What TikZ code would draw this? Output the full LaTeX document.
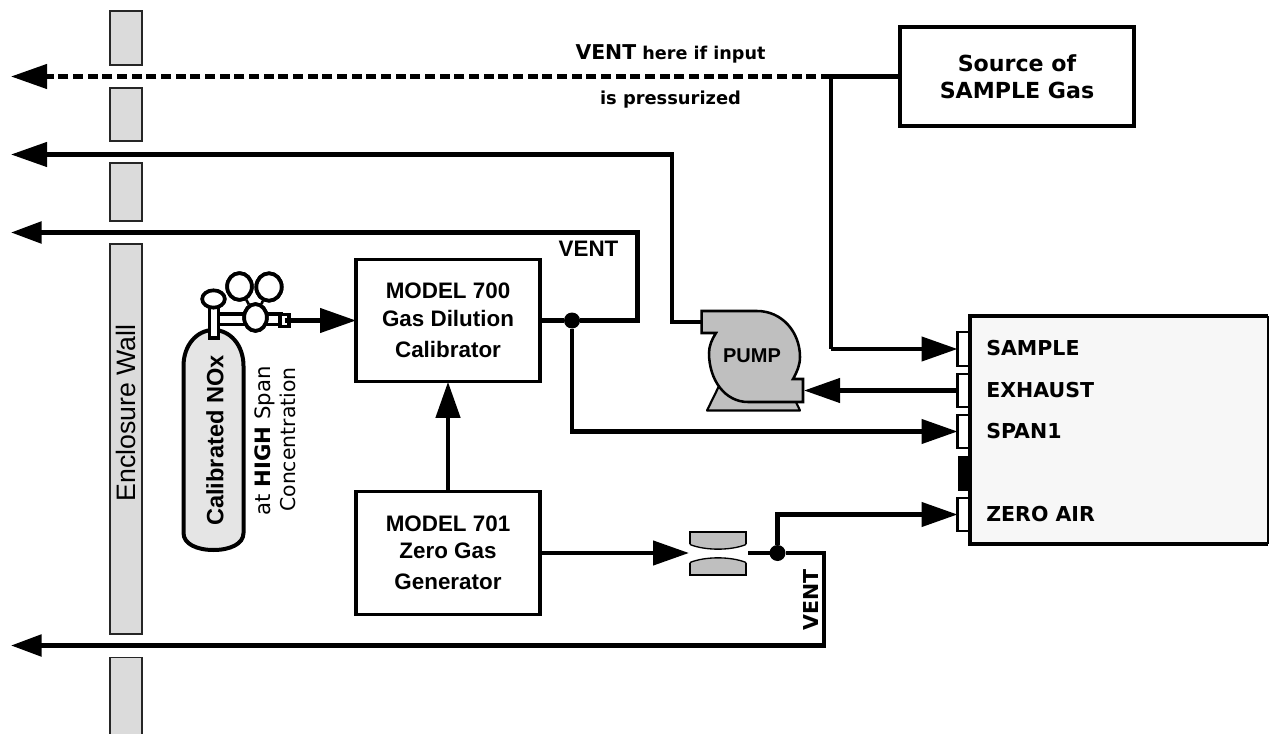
\documentclass[tikz,border=0pt]{standalone}
\usepackage{fontspec}
\setmainfont{Liberation Sans}
\newfontfamily\dvb[Scale=1]{DejaVu Sans}
\usetikzlibrary{arrows.meta,shapes.geometric}
\newcommand{\fsz}[1]{\fontsize{#1}{#1}\selectfont}
\tikzset{
  x=0.75pt,y=-0.75pt,
  pipe/.style={line width=3.3pt,line join=miter},
  bigtip/.style={pipe,-{Triangle[length=27pt,width=18pt]}},
  midtip/.style={pipe,-{Triangle[length=23pt,width=16pt]}},
  wallbox/.style={draw=black!85,fill=black!14,line width=1pt,inner sep=0pt,outer sep=0pt,minimum width=24pt},
  blockbox/.style={draw,fill=white,line width=2.3pt,inner sep=0pt,outer sep=0pt,minimum width=138pt,minimum height=92pt,align=center,font=\fsz{16.8}\bfseries},
  portbox/.style={draw,fill=white,line width=1.6pt,inner sep=0pt,outer sep=0pt,minimum width=9pt,minimum height=25pt},
  portlabel/.style={anchor=west,inner sep=0pt,font=\dvb\fsz{15.4}\bfseries},
  junction/.style={circle,fill=black,inner sep=0pt,outer sep=0pt,minimum size=12pt},
  valvepart/.style={draw,fill=white,line width=2.4pt},
  gauge/.style={ellipse,draw,fill=white,line width=2.8pt,inner sep=0pt},
  vertical/.style={rotate=90,inner sep=0pt},
}
\begin{document}
\begin{tikzpicture}
\useasboundingbox (0,0) rectangle (1270,734);
% enclosure wall
\node[wallbox,minimum height=40.5pt] (w1) at (126,38) {};
\node[wallbox,minimum height=39.75pt] (w2) at (126,114.5) {};
\node[wallbox,minimum height=43.5pt] (w3) at (126,192) {};
\node[wallbox,minimum height=292.5pt] (w4) at (126,439) {};
\node[wallbox,minimum height=58pt] (w5) at (126,696) {};
\node[vertical,font=\fsz{20}] (wlabel) at (126,413) {Enclosure Wall};
% free ends
\coordinate (ventA) at (11,76.5);
\coordinate (ventB) at (11,154.5);
\coordinate (ventC) at (11,232.5);
\coordinate (ventD) at (11,645.5);
% source
\node[blockbox,line width=3.3pt,minimum width=175.5pt,minimum height=74pt,font=\dvb\fsz{16.6}\bfseries] (src) at (1017,76.5) {Source of\\[3.7pt]SAMPLE Gas};
\coordinate (tee) at (831,76.5);
\coordinate (teeS) at (831,349);
% analyzer
\node[fill=black!3,inner sep=0pt,outer sep=0pt,minimum width=223.5pt,minimum height=171pt] (ana) at (1119,430) {};
\draw[line width=3.4pt,line join=miter] (ana.north east) -- (ana.north west) -- (ana.south west) -- (ana.south east);
\draw[line width=1pt] (ana.north east) -- (ana.south east);
\node[portbox] (pS) at (963.5,349) {};
\node[portbox] (pE) at (963.5,390.5) {};
\node[portbox] (pP) at (963.5,431.5) {};
\node[fill=black,inner sep=0pt,minimum width=9pt,minimum height=26pt,outer sep=0pt] (pB) at (963.5,473.5) {};
\node[portbox] (pZ) at (963.5,514.5) {};
\node[portlabel] (lS) at (986,348) {SAMPLE};
\node[portlabel] (lE) at (986,390) {EXHAUST};
\node[portlabel] (lP) at (986,431) {SPAN1};
\node[portlabel] (lZ) at (986,514.5) {ZERO AIR};
% blocks
\node[blockbox] (m700) at (448,320.5) {MODEL 700\\[4.2pt]Gas Dilution\\[6.5pt]Calibrator};
\node[blockbox] (m701) at (448,553) {MODEL 701\\[3.6pt]Zero Gas\\[6.5pt]Generator};
% pump
\draw[fill=black!25,line width=1.6pt,line join=round] (707,410.5) -- (719,386) -- (795,400) -- (800,410.5) -- cycle;
\draw[fill=black!25,line width=1.9pt,line join=miter]
  (701.7,311) -- (757,311) .. controls (782,311) and (800,332) .. (800,357)
  .. controls (800,365) and (797,372) .. (793,379) -- (803,379) -- (803,402) -- (748,402)
  .. controls (725,402) and (709,380) .. (709,353) .. controls (709,346) and (712,339) .. (716,333)
  -- (701.7,333) -- cycle;
\node[inner sep=0pt,font=\fsz{15}\bfseries] (pump) at (752,355.5) {PUMP};
\coordinate (pumpIn) at (701,322);
\coordinate (pumpOut) at (804,390.5);
\coordinate (pumpUp) at (672,322);
% flow restrictor
\draw[fill=black!25,line width=1.2pt] (690,532) rectangle (746,575);
\fill[white] (688.5,544) .. controls (705,550.7) and (731,550.7) .. (747.5,544) -- (747.5,563) .. controls (731,556.3) and (705,556.3) .. (688.5,563) -- cycle;
\draw[line width=1pt] (690,544.5) .. controls (705,550.7) and (731,550.7) .. (746,544.5);
\draw[line width=1pt] (690,562.5) .. controls (705,556.3) and (731,556.3) .. (746,562.5);
\coordinate (fIn) at (689,553);
\coordinate (fOut) at (748,553);
% cylinder
\draw[fill=black!10,line width=3pt] (183.5,366) .. controls (183.5,345) and (197,330) .. (213.5,330)
  .. controls (230,330) and (243.5,345) .. (243.5,366) -- (243.5,533)
  .. controls (243.5,544) and (230,550) .. (213.5,550) .. controls (197,550) and (183.5,544) .. (183.5,533) -- cycle;
% valve
\draw[valvepart] (250,314) rectangle (281,324.5);
\draw[valvepart] (218,314) rectangle (250,324.5);
\node[draw,fill=white,line width=2.4pt,inner sep=0pt,minimum width=6.8pt,minimum height=9.5pt,outer sep=0pt] (fit) at (284.5,320.5) {};
\draw[valvepart] (209.5,304) rectangle (218.5,338);
\node[gauge,minimum width=17pt,minimum height=13pt] (knob) at (213.5,299) {};
\node[gauge,minimum width=18.5pt,minimum height=20pt] (g1) at (239.5,286.5) {};
\node[gauge,minimum width=19pt,minimum height=20.5pt] (g2) at (269,287) {};
\node[gauge,minimum width=17pt,minimum height=20pt] (reg) at (255.5,317.5) {};
\draw[line width=2pt] (g1) -- (reg) -- (g2);
\node[gauge,minimum width=18.5pt,minimum height=20pt] at (239.5,286.5) {};
\node[gauge,minimum width=19pt,minimum height=20.5pt] at (269,287) {};
\node[gauge,minimum width=17pt,minimum height=20pt] at (255.5,317.5) {};
\node[vertical,font=\fsz{17.7}\bfseries] (cylLabel) at (215,440.5) {Calibrated NOx};
\node[vertical,font=\dvb\fsz{15.9}] (hi) at (264.5,441) {at \textbf{HIGH} Span};
\node[vertical,font=\dvb\fsz{15.3}] (conc) at (288,439.5) {Concentration};
% connectors
\draw[pipe] (src.west) -- (tee);
\draw[pipe,dash pattern=on 7.5pt off 3.5pt,-{Triangle[length=27pt,width=18pt]}] (tee) -- (ventA);
\draw[pipe] (tee) -- (teeS);
\draw[bigtip] (teeS) -- (pS.west);
\draw[bigtip] (pE.west) -- (pumpOut);
\draw[bigtip] (pumpIn) -- (pumpUp) |- (ventB);
\node[junction] (j1) at (572,320.5) {};
\node[junction] (j2) at (777.5,553) {};
\coordinate (c1) at (637.5,320.5);
\draw[pipe] (m700.east) -- (j1);
\draw[midtip] (j1) -- (c1) |- (ventC);
\draw[bigtip] (j1) |- (pP.west);
\draw[bigtip] (fit.center) -- (m700.west);
\draw[bigtip] (m701.north) -- (m700.south);
\draw[bigtip] (m701.east) -- (fIn);
\draw[pipe] (fOut) -- (j2);
\draw[bigtip] (j2) |- (pZ.west);
\coordinate (c2) at (824,553);
\draw[midtip] (j2) -- (c2) |- (ventD);
% texts
\node[inner sep=0pt,font=\fsz{16.8}\bfseries] (v1) at (588.5,248.5) {VENT};
\node[vertical,font=\dvb\fsz{15.4}\bfseries] (v2) at (811.5,600) {VENT};
\node[inner sep=0pt,font=\dvb\fsz{13.2}\bfseries] (t1) at (670.5,53.5) {{\fsz{15.3}VENT} here if input};
\node[inner sep=0pt,font=\dvb\fsz{13.4}\bfseries] (t2) at (670.5,100) {is pressurized};
\end{tikzpicture}
\end{document}
